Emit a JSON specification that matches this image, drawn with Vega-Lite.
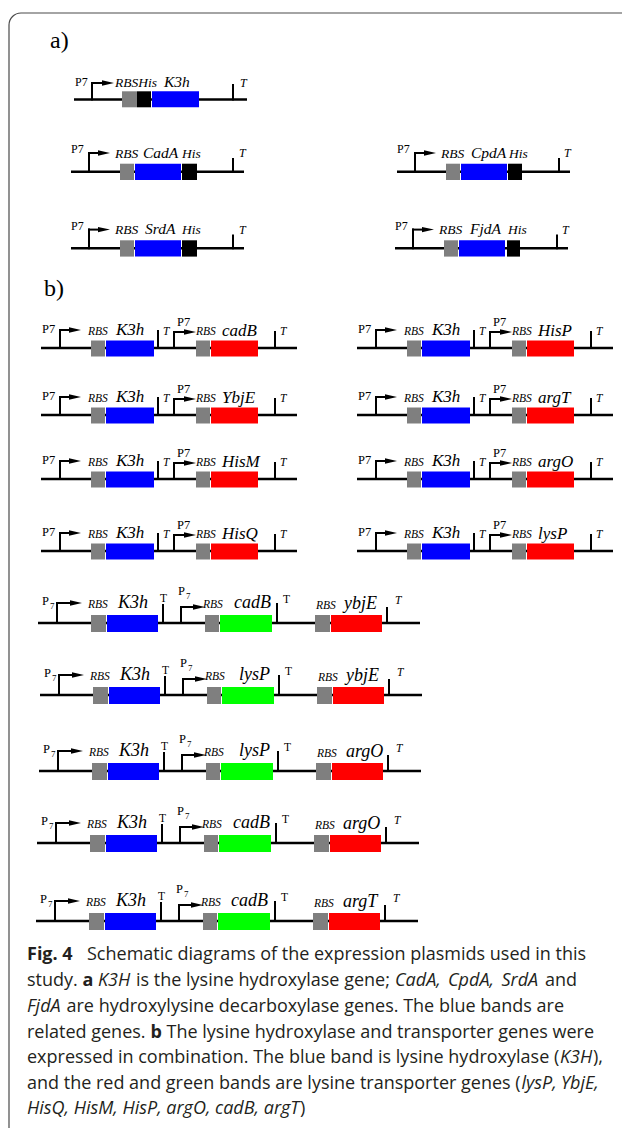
{
"$schema": "https://vega.github.io/schema/vega-lite/v6.json",
"width": 622, "height": 1128, "padding": 0, "autosize": {"type": "none"},
"background": "white",
"config": {"view": {"stroke": null}},
"datasets": {
"frame": [{"x": 9, "x2": 700, "y": 13, "y2": 1200}],
"bb": [
{"x":74,"x2":247,"y":99.5},
{"x":71,"x2":244,"y":171.7},{"x":397,"x2":570,"y":171.7},
{"x":71,"x2":244,"y":248.3},{"x":395,"x2":568,"y":248.3},
{"x":41,"x2":297,"y":348},{"x":357,"x2":613,"y":348},
{"x":41,"x2":297,"y":415},{"x":357,"x2":613,"y":415},
{"x":41,"x2":297,"y":479},{"x":357,"x2":613,"y":479},
{"x":41,"x2":297,"y":551},{"x":357,"x2":613,"y":551},
{"x":38,"x2":420,"y":623},{"x":40,"x2":422,"y":695},{"x":39,"x2":421,"y":771},{"x":37,"x2":419,"y":843},{"x":36,"x2":418,"y":921}
],
"vl": [
{"x":92,"y":83,"y2":99.5},{"x":233,"y":85,"y2":99.5},
{"x":89,"y":153,"y2":171.7},{"x":233,"y":159,"y2":171.7},
{"x":415,"y":153,"y2":171.7},{"x":559,"y":159,"y2":171.7},
{"x":89,"y":229.6,"y2":248.3},{"x":233,"y":235.6,"y2":248.3},
{"x":413,"y":229.6,"y2":248.3},{"x":557,"y":235.6,"y2":248.3},
{"x":60,"y":330,"y2":348},{"x":158,"y":331,"y2":348},{"x":174,"y":332,"y2":348},{"x":275,"y":332,"y2":348},
{"x":376,"y":330,"y2":348},{"x":474,"y":331,"y2":348},{"x":490,"y":332,"y2":348},{"x":591,"y":332,"y2":348},
{"x":60,"y":397,"y2":415},{"x":158,"y":398,"y2":415},{"x":174,"y":399,"y2":415},{"x":275,"y":399,"y2":415},
{"x":376,"y":397,"y2":415},{"x":474,"y":398,"y2":415},{"x":490,"y":399,"y2":415},{"x":591,"y":399,"y2":415},
{"x":60,"y":461,"y2":479},{"x":158,"y":462,"y2":479},{"x":174,"y":463,"y2":479},{"x":275,"y":463,"y2":479},
{"x":376,"y":461,"y2":479},{"x":474,"y":462,"y2":479},{"x":490,"y":463,"y2":479},{"x":591,"y":463,"y2":479},
{"x":60,"y":533,"y2":551},{"x":158,"y":534,"y2":551},{"x":174,"y":535,"y2":551},{"x":275,"y":535,"y2":551},
{"x":376,"y":533,"y2":551},{"x":474,"y":534,"y2":551},{"x":490,"y":535,"y2":551},{"x":591,"y":535,"y2":551},
{"x":57,"y":603,"y2":623},{"x":163,"y":605,"y2":623},{"x":181,"y":607,"y2":623},{"x":277,"y":604,"y2":623},{"x":387,"y":608,"y2":623},
{"x":59,"y":675,"y2":695},{"x":165,"y":677,"y2":695},{"x":183,"y":679,"y2":695},{"x":279,"y":676,"y2":695},{"x":389,"y":680,"y2":695},
{"x":58,"y":751,"y2":771},{"x":164,"y":753,"y2":771},{"x":182,"y":755,"y2":771},{"x":278,"y":752,"y2":771},{"x":388,"y":756,"y2":771},
{"x":56,"y":823,"y2":843},{"x":162,"y":825,"y2":843},{"x":180,"y":827,"y2":843},{"x":276,"y":824,"y2":843},{"x":386,"y":828,"y2":843},
{"x":55,"y":901,"y2":921},{"x":161,"y":903,"y2":921},{"x":179,"y":905,"y2":921},{"x":275,"y":902,"y2":921},{"x":385,"y":906,"y2":921}
],
"sh": [
{"x":92,"x2":104,"y":83},{"x":89,"x2":98,"y":153},{"x":415,"x2":424,"y":153},{"x":89,"x2":98,"y":229.6},{"x":413,"x2":422,"y":229.6},
{"x":60,"x2":69,"y":330},{"x":174,"x2":184,"y":332},{"x":376,"x2":385,"y":330},{"x":490,"x2":500,"y":332},
{"x":60,"x2":69,"y":397},{"x":174,"x2":184,"y":399},{"x":376,"x2":385,"y":397},{"x":490,"x2":500,"y":399},
{"x":60,"x2":69,"y":461},{"x":174,"x2":184,"y":463},{"x":376,"x2":385,"y":461},{"x":490,"x2":500,"y":463},
{"x":60,"x2":69,"y":533},{"x":174,"x2":184,"y":535},{"x":376,"x2":385,"y":533},{"x":490,"x2":500,"y":535},
{"x":57,"x2":70,"y":603},{"x":181,"x2":193,"y":607},
{"x":59,"x2":72,"y":675},{"x":183,"x2":195,"y":679},
{"x":58,"x2":71,"y":751},{"x":182,"x2":194,"y":755},
{"x":56,"x2":69,"y":823},{"x":180,"x2":192,"y":827},
{"x":55,"x2":68,"y":901},{"x":179,"x2":191,"y":905}
],
"tip": [
{"x":108,"y":83},{"x":104,"y":153},{"x":430,"y":153},{"x":104,"y":229.6},{"x":428,"y":229.6},
{"x":75,"y":330},{"x":190,"y":332},{"x":391,"y":330},{"x":506,"y":332},
{"x":75,"y":397},{"x":190,"y":399},{"x":391,"y":397},{"x":506,"y":399},
{"x":75,"y":461},{"x":190,"y":463},{"x":391,"y":461},{"x":506,"y":463},
{"x":75,"y":533},{"x":190,"y":535},{"x":391,"y":533},{"x":506,"y":535},
{"x":76,"y":603},{"x":199,"y":607},
{"x":78,"y":675},{"x":201,"y":679},
{"x":77,"y":751},{"x":200,"y":755},
{"x":75,"y":823},{"x":198,"y":827},
{"x":74,"y":901},{"x":197,"y":905}
],
"box": [
{"x":122,"x2":137,"y":91.3,"y2":107.3,"c":"g"},{"x":137,"x2":151,"y":91.3,"y2":107.3,"c":"k"},{"x":152,"x2":199,"y":91.3,"y2":107.3,"c":"b"},
{"x":120,"x2":134,"y":163.7,"y2":180,"c":"g"},{"x":135,"x2":181,"y":163.7,"y2":180,"c":"b"},{"x":182,"x2":197,"y":163.7,"y2":180,"c":"k"},
{"x":446,"x2":460,"y":163.7,"y2":180,"c":"g"},{"x":461,"x2":507,"y":163.7,"y2":180,"c":"b"},{"x":508,"x2":522,"y":163.7,"y2":180,"c":"k"},
{"x":120,"x2":134,"y":240.3,"y2":256.6,"c":"g"},{"x":135,"x2":181,"y":240.3,"y2":256.6,"c":"b"},{"x":182,"x2":197,"y":240.3,"y2":256.6,"c":"k"},
{"x":444,"x2":458,"y":240.3,"y2":256.6,"c":"g"},{"x":459,"x2":505,"y":240.3,"y2":256.6,"c":"b"},{"x":507,"x2":520,"y":240.3,"y2":256.6,"c":"k"},
{"x":91,"x2":105,"y":340.5,"y2":356.5,"c":"g"},{"x":106,"x2":154,"y":340.5,"y2":356.5,"c":"b"},{"x":196,"x2":210,"y":340.5,"y2":356.5,"c":"g"},{"x":211,"x2":258,"y":340.5,"y2":356.5,"c":"r"},
{"x":407,"x2":421,"y":340.5,"y2":356.5,"c":"g"},{"x":422,"x2":470,"y":340.5,"y2":356.5,"c":"b"},{"x":512,"x2":526,"y":340.5,"y2":356.5,"c":"g"},{"x":527,"x2":574,"y":340.5,"y2":356.5,"c":"r"},
{"x":91,"x2":105,"y":407.5,"y2":423.5,"c":"g"},{"x":106,"x2":154,"y":407.5,"y2":423.5,"c":"b"},{"x":196,"x2":210,"y":407.5,"y2":423.5,"c":"g"},{"x":211,"x2":258,"y":407.5,"y2":423.5,"c":"r"},
{"x":407,"x2":421,"y":407.5,"y2":423.5,"c":"g"},{"x":422,"x2":470,"y":407.5,"y2":423.5,"c":"b"},{"x":512,"x2":526,"y":407.5,"y2":423.5,"c":"g"},{"x":527,"x2":574,"y":407.5,"y2":423.5,"c":"r"},
{"x":91,"x2":105,"y":471.5,"y2":487.5,"c":"g"},{"x":106,"x2":154,"y":471.5,"y2":487.5,"c":"b"},{"x":196,"x2":210,"y":471.5,"y2":487.5,"c":"g"},{"x":211,"x2":258,"y":471.5,"y2":487.5,"c":"r"},
{"x":407,"x2":421,"y":471.5,"y2":487.5,"c":"g"},{"x":422,"x2":470,"y":471.5,"y2":487.5,"c":"b"},{"x":512,"x2":526,"y":471.5,"y2":487.5,"c":"g"},{"x":527,"x2":574,"y":471.5,"y2":487.5,"c":"r"},
{"x":91,"x2":105,"y":543.5,"y2":559.5,"c":"g"},{"x":106,"x2":154,"y":543.5,"y2":559.5,"c":"b"},{"x":196,"x2":210,"y":543.5,"y2":559.5,"c":"g"},{"x":211,"x2":258,"y":543.5,"y2":559.5,"c":"r"},
{"x":407,"x2":421,"y":543.5,"y2":559.5,"c":"g"},{"x":422,"x2":470,"y":543.5,"y2":559.5,"c":"b"},{"x":512,"x2":526,"y":543.5,"y2":559.5,"c":"g"},{"x":527,"x2":574,"y":543.5,"y2":559.5,"c":"r"},
{"x":91,"x2":106,"y":615,"y2":632,"c":"g"},{"x":107,"x2":158,"y":615,"y2":632,"c":"b"},{"x":205,"x2":219,"y":615,"y2":632,"c":"g"},{"x":220,"x2":272,"y":615,"y2":632,"c":"n"},{"x":315,"x2":330,"y":615,"y2":632,"c":"g"},{"x":331,"x2":382,"y":615,"y2":632,"c":"r"},
{"x":93,"x2":108,"y":687,"y2":704,"c":"g"},{"x":109,"x2":160,"y":687,"y2":704,"c":"b"},{"x":207,"x2":221,"y":687,"y2":704,"c":"g"},{"x":222,"x2":274,"y":687,"y2":704,"c":"n"},{"x":317,"x2":332,"y":687,"y2":704,"c":"g"},{"x":333,"x2":384,"y":687,"y2":704,"c":"r"},
{"x":92,"x2":107,"y":763,"y2":780,"c":"g"},{"x":108,"x2":159,"y":763,"y2":780,"c":"b"},{"x":206,"x2":220,"y":763,"y2":780,"c":"g"},{"x":221,"x2":273,"y":763,"y2":780,"c":"n"},{"x":316,"x2":331,"y":763,"y2":780,"c":"g"},{"x":332,"x2":383,"y":763,"y2":780,"c":"r"},
{"x":90,"x2":105,"y":835,"y2":852,"c":"g"},{"x":106,"x2":157,"y":835,"y2":852,"c":"b"},{"x":204,"x2":218,"y":835,"y2":852,"c":"g"},{"x":219,"x2":271,"y":835,"y2":852,"c":"n"},{"x":314,"x2":329,"y":835,"y2":852,"c":"g"},{"x":330,"x2":381,"y":835,"y2":852,"c":"r"},
{"x":89,"x2":104,"y":913,"y2":930,"c":"g"},{"x":105,"x2":156,"y":913,"y2":930,"c":"b"},{"x":203,"x2":217,"y":913,"y2":930,"c":"g"},{"x":218,"x2":270,"y":913,"y2":930,"c":"n"},{"x":313,"x2":328,"y":913,"y2":930,"c":"g"},{"x":329,"x2":380,"y":913,"y2":930,"c":"r"}
],
"txt": [
{"x":50,"y":48,"t":"a)","k":"lab"},{"x":44,"y":296,"t":"b)","k":"lab"},
{"x":75,"y":86,"t":"P7","k":"pa"},{"x":115,"y":87,"t":"RBSHis","k":"ia13"},{"x":164,"y":87,"t":"K3h","k":"ia15"},{"x":240,"y":87,"t":"T","k":"ia12"},
{"x":71,"y":153,"t":"P7","k":"pa"},{"x":115,"y":157.5,"t":"RBS","k":"ia13"},{"x":143,"y":157.5,"t":"CadA","k":"ia15"},{"x":182,"y":157.5,"t":"His","k":"ia13"},{"x":239,"y":157,"t":"T","k":"ia12"},
{"x":397,"y":153,"t":"P7","k":"pa"},{"x":441,"y":157.5,"t":"RBS","k":"ia13"},{"x":471,"y":157.5,"t":"CpdA","k":"ia15"},{"x":509,"y":157.5,"t":"His","k":"ia13"},{"x":564,"y":157,"t":"T","k":"ia12"},
{"x":71,"y":229.6,"t":"P7","k":"pa"},{"x":115,"y":234,"t":"RBS","k":"ia13"},{"x":145,"y":234,"t":"SrdA","k":"ia15"},{"x":182,"y":234,"t":"His","k":"ia13"},{"x":239,"y":233.6,"t":"T","k":"ia12"},
{"x":395,"y":229.6,"t":"P7","k":"pa"},{"x":439,"y":234,"t":"RBS","k":"ia13"},{"x":470,"y":234,"t":"FjdA","k":"ia15"},{"x":508,"y":234,"t":"His","k":"ia13"},{"x":562,"y":233.6,"t":"T","k":"ia12"},
{"x":42,"y":333,"t":"P7","k":"p"},{"x":88,"y":335,"t":"RBS","k":"rbs"},{"x":116,"y":335,"t":"K3h","k":"g17"},{"x":163,"y":335,"t":"T","k":"ti"},{"x":177,"y":326,"t":"P7","k":"p"},{"x":196,"y":335,"t":"RBS","k":"rbs"},{"x":222,"y":336,"t":"cadB","k":"g17"},{"x":280,"y":335,"t":"T","k":"ti"},
{"x":358,"y":333,"t":"P7","k":"p"},{"x":404,"y":335,"t":"RBS","k":"rbs"},{"x":432,"y":335,"t":"K3h","k":"g17"},{"x":479,"y":335,"t":"T","k":"ti"},{"x":493,"y":326,"t":"P7","k":"p"},{"x":512,"y":335,"t":"RBS","k":"rbs"},{"x":538,"y":336,"t":"HisP","k":"g17"},{"x":596,"y":335,"t":"T","k":"ti"},
{"x":42,"y":400,"t":"P7","k":"p"},{"x":88,"y":402,"t":"RBS","k":"rbs"},{"x":116,"y":402,"t":"K3h","k":"g17"},{"x":163,"y":402,"t":"T","k":"ti"},{"x":177,"y":393,"t":"P7","k":"p"},{"x":196,"y":402,"t":"RBS","k":"rbs"},{"x":222,"y":403,"t":"YbjE","k":"g17"},{"x":280,"y":402,"t":"T","k":"ti"},
{"x":358,"y":400,"t":"P7","k":"p"},{"x":404,"y":402,"t":"RBS","k":"rbs"},{"x":432,"y":402,"t":"K3h","k":"g17"},{"x":479,"y":402,"t":"T","k":"ti"},{"x":493,"y":393,"t":"P7","k":"p"},{"x":512,"y":402,"t":"RBS","k":"rbs"},{"x":538,"y":403,"t":"argT","k":"g17"},{"x":596,"y":402,"t":"T","k":"ti"},
{"x":42,"y":464,"t":"P7","k":"p"},{"x":88,"y":466,"t":"RBS","k":"rbs"},{"x":116,"y":466,"t":"K3h","k":"g17"},{"x":163,"y":466,"t":"T","k":"ti"},{"x":177,"y":457,"t":"P7","k":"p"},{"x":196,"y":466,"t":"RBS","k":"rbs"},{"x":222,"y":467,"t":"HisM","k":"g17"},{"x":280,"y":466,"t":"T","k":"ti"},
{"x":358,"y":464,"t":"P7","k":"p"},{"x":404,"y":466,"t":"RBS","k":"rbs"},{"x":432,"y":466,"t":"K3h","k":"g17"},{"x":479,"y":466,"t":"T","k":"ti"},{"x":493,"y":457,"t":"P7","k":"p"},{"x":512,"y":466,"t":"RBS","k":"rbs"},{"x":538,"y":467,"t":"argO","k":"g17"},{"x":596,"y":466,"t":"T","k":"ti"},
{"x":42,"y":536,"t":"P7","k":"p"},{"x":88,"y":538,"t":"RBS","k":"rbs"},{"x":116,"y":538,"t":"K3h","k":"g17"},{"x":163,"y":538,"t":"T","k":"ti"},{"x":177,"y":529,"t":"P7","k":"p"},{"x":196,"y":538,"t":"RBS","k":"rbs"},{"x":222,"y":539,"t":"HisQ","k":"g17"},{"x":280,"y":538,"t":"T","k":"ti"},
{"x":358,"y":536,"t":"P7","k":"p"},{"x":404,"y":538,"t":"RBS","k":"rbs"},{"x":432,"y":538,"t":"K3h","k":"g17"},{"x":479,"y":538,"t":"T","k":"ti"},{"x":493,"y":529,"t":"P7","k":"p"},{"x":512,"y":538,"t":"RBS","k":"rbs"},{"x":538,"y":539,"t":"lysP","k":"g17"},{"x":596,"y":538,"t":"T","k":"ti"},
{"x":42,"y":605,"t":"P","k":"p"},{"x":50,"y":608.5,"t":"7","k":"sub"},{"x":88,"y":608,"t":"RBS","k":"rbs"},{"x":118,"y":608,"t":"K3h","k":"g18"},{"x":160,"y":602,"t":"T","k":"tu"},{"x":178,"y":595,"t":"P","k":"p"},{"x":186,"y":598.5,"t":"7","k":"sub"},{"x":203,"y":608,"t":"RBS","k":"rbs"},{"x":234,"y":608,"t":"cadB","k":"g18"},{"x":283,"y":603,"t":"T","k":"tu"},{"x":316,"y":609,"t":"RBS","k":"rbs"},{"x":344,"y":609,"t":"ybjE","k":"g18"},{"x":395,"y":604,"t":"T","k":"ti"},
{"x":44,"y":677,"t":"P","k":"p"},{"x":52,"y":680.5,"t":"7","k":"sub"},{"x":90,"y":680,"t":"RBS","k":"rbs"},{"x":120,"y":680,"t":"K3h","k":"g18"},{"x":162,"y":674,"t":"T","k":"tu"},{"x":180,"y":667,"t":"P","k":"p"},{"x":188,"y":670.5,"t":"7","k":"sub"},{"x":205,"y":680,"t":"RBS","k":"rbs"},{"x":239,"y":680,"t":"lysP","k":"g18"},{"x":285,"y":675,"t":"T","k":"tu"},{"x":318,"y":681,"t":"RBS","k":"rbs"},{"x":346,"y":681,"t":"ybjE","k":"g18"},{"x":397,"y":676,"t":"T","k":"ti"},
{"x":43,"y":753,"t":"P","k":"p"},{"x":51,"y":756.5,"t":"7","k":"sub"},{"x":89,"y":756,"t":"RBS","k":"rbs"},{"x":119,"y":756,"t":"K3h","k":"g18"},{"x":161,"y":750,"t":"T","k":"tu"},{"x":179,"y":743,"t":"P","k":"p"},{"x":187,"y":746.5,"t":"7","k":"sub"},{"x":204,"y":756,"t":"RBS","k":"rbs"},{"x":239,"y":756,"t":"lysP","k":"g18"},{"x":284,"y":751,"t":"T","k":"tu"},{"x":317,"y":757,"t":"RBS","k":"rbs"},{"x":346,"y":757,"t":"argO","k":"g18"},{"x":396,"y":752,"t":"T","k":"ti"},
{"x":41,"y":825,"t":"P","k":"p"},{"x":49,"y":828.5,"t":"7","k":"sub"},{"x":87,"y":828,"t":"RBS","k":"rbs"},{"x":117,"y":828,"t":"K3h","k":"g18"},{"x":159,"y":822,"t":"T","k":"tu"},{"x":177,"y":815,"t":"P","k":"p"},{"x":185,"y":818.5,"t":"7","k":"sub"},{"x":202,"y":828,"t":"RBS","k":"rbs"},{"x":233,"y":828,"t":"cadB","k":"g18"},{"x":282,"y":823,"t":"T","k":"tu"},{"x":315,"y":829,"t":"RBS","k":"rbs"},{"x":343,"y":829,"t":"argO","k":"g18"},{"x":394,"y":824,"t":"T","k":"ti"},
{"x":40,"y":903,"t":"P","k":"p"},{"x":48,"y":906.5,"t":"7","k":"sub"},{"x":86,"y":906,"t":"RBS","k":"rbs"},{"x":116,"y":906,"t":"K3h","k":"g18"},{"x":158,"y":900,"t":"T","k":"tu"},{"x":176,"y":893,"t":"P","k":"p"},{"x":184,"y":896.5,"t":"7","k":"sub"},{"x":201,"y":906,"t":"RBS","k":"rbs"},{"x":231,"y":906,"t":"cadB","k":"g18"},{"x":281,"y":901,"t":"T","k":"tu"},{"x":314,"y":907,"t":"RBS","k":"rbs"},{"x":343,"y":907,"t":"argT","k":"g18"},{"x":393,"y":902,"t":"T","k":"ti"}
],
"cap": [
{"x":27,"y":960,"t":"Fig. 4","k":"cb"},
{"x":87,"y":960,"t":"Schematic diagrams of the expression plasmids used in this","k":"cr"},
{"x":27,"y":986,"t":"study.","k":"cr"},
{"x":82.5,"y":986,"t":"a","k":"cb"},
{"x":98,"y":986,"t":"K3H","k":"ci"},
{"x":136,"y":986,"t":"is the lysine hydroxylase gene;","k":"cr"},
{"x":395,"y":986,"t":"CadA,","k":"ci"},
{"x":448,"y":986,"t":"CpdA,","k":"ci"},
{"x":501.5,"y":986,"t":"SrdA","k":"ci"},
{"x":545,"y":986,"t":"and","k":"cr"},
{"x":27,"y":1012,"t":"FjdA","k":"ci"},
{"x":66.5,"y":1012,"t":"are hydroxylysine decarboxylase genes. The blue bands are","k":"cr"},
{"x":27,"y":1037.5,"t":"related genes.","k":"cr"},
{"x":150.5,"y":1037.5,"t":"b","k":"cb"},
{"x":166.5,"y":1037.5,"t":"The lysine hydroxylase and transporter genes were","k":"cr"},
{"x":27,"y":1063,"t":"expressed in combination. The blue band is lysine hydroxylase (","k":"cr"},
{"x":560,"y":1063,"t":"K3H","k":"ci"},
{"x":593,"y":1063,"t":"),","k":"cr"},
{"x":27,"y":1088.5,"t":"and the red and green bands are lysine transporter genes (","k":"cr"},
{"x":521.5,"y":1088.5,"t":"lysP,","k":"ci"},
{"x":561,"y":1088.5,"t":"YbjE,","k":"ci"},
{"x":27,"y":1114,"t":"HisQ, HisM, HisP, argO, cadB, argT","k":"ci"},
{"x":300,"y":1114,"t":")","k":"cr"}
]
},
"encoding": {
"x": {"field": "x", "type": "quantitative", "scale": {"domain": [0, 622], "nice": false, "zero": false}, "axis": null},
"y": {"field": "y", "type": "quantitative", "scale": {"domain": [0, 1128], "nice": false, "zero": false, "reverse": true}, "axis": null}
},
"layer": [
{"data": {"name": "frame"}, "mark": {"type": "rect", "filled": false, "stroke": "#4a4a4a", "strokeWidth": 1.2, "cornerRadius": 12}, "encoding": {"x2": {"field": "x2"}, "y2": {"field": "y2"}}},
{"data": {"name": "bb"}, "mark": {"type": "rule", "strokeWidth": 2.5, "color": "black"}, "encoding": {"x2": {"field": "x2"}}},
{"data": {"name": "vl"}, "mark": {"type": "rule", "strokeWidth": 2, "color": "black", "strokeCap": "square"}, "encoding": {"y2": {"field": "y2"}}},
{"data": {"name": "sh"}, "mark": {"type": "rule", "strokeWidth": 2, "color": "black", "strokeCap": "square"}, "encoding": {"x2": {"field": "x2"}}},
{"data": {"name": "tip"}, "mark": {"type": "point", "shape": "M-1,-0.45L1,0L-1,0.45Z", "size": 144, "filled": true, "color": "black", "opacity": 1, "strokeWidth": 0}},
{"data": {"name": "box"}, "mark": {"type": "rect"}, "encoding": {"x2": {"field": "x2"}, "y2": {"field": "y2"}, "color": {"field": "c", "type": "nominal", "scale": {"domain": ["g", "k", "b", "r", "n"], "range": ["#7f7f7f", "#000000", "#0000ff", "#ff0000", "#00ff00"]}, "legend": null}}},
{"data": {"name": "txt"}, "transform": [{"filter": "datum.k==='lab'"}], "mark": {"type": "text", "align": "left", "baseline": "alphabetic", "font": "Liberation Serif", "fontSize": 24, "color": "black"}, "encoding": {"text": {"field": "t"}}},
{"data": {"name": "txt"}, "transform": [{"filter": "datum.k==='pa'"}], "mark": {"type": "text", "align": "left", "baseline": "alphabetic", "font": "Liberation Serif", "fontSize": 12, "color": "black"}, "encoding": {"text": {"field": "t"}}},
{"data": {"name": "txt"}, "transform": [{"filter": "datum.k==='ia13'"}], "mark": {"type": "text", "align": "left", "baseline": "alphabetic", "font": "Liberation Serif", "fontSize": 13.5, "fontStyle": "italic", "color": "black"}, "encoding": {"text": {"field": "t"}}},
{"data": {"name": "txt"}, "transform": [{"filter": "datum.k==='ia15'"}], "mark": {"type": "text", "align": "left", "baseline": "alphabetic", "font": "Liberation Serif", "fontSize": 15.5, "fontStyle": "italic", "color": "black"}, "encoding": {"text": {"field": "t"}}},
{"data": {"name": "txt"}, "transform": [{"filter": "datum.k==='ia12'"}], "mark": {"type": "text", "align": "left", "baseline": "alphabetic", "font": "Liberation Serif", "fontSize": 12, "fontStyle": "italic", "color": "black"}, "encoding": {"text": {"field": "t"}}},
{"data": {"name": "txt"}, "transform": [{"filter": "datum.k==='p'"}], "mark": {"type": "text", "align": "left", "baseline": "alphabetic", "font": "Liberation Serif", "fontSize": 12.5, "color": "black"}, "encoding": {"text": {"field": "t"}}},
{"data": {"name": "txt"}, "transform": [{"filter": "datum.k==='sub'"}], "mark": {"type": "text", "align": "left", "baseline": "alphabetic", "font": "Liberation Serif", "fontSize": 9, "color": "black"}, "encoding": {"text": {"field": "t"}}},
{"data": {"name": "txt"}, "transform": [{"filter": "datum.k==='rbs'"}], "mark": {"type": "text", "align": "left", "baseline": "alphabetic", "font": "Liberation Serif", "fontSize": 11.5, "fontStyle": "italic", "color": "black"}, "encoding": {"text": {"field": "t"}}},
{"data": {"name": "txt"}, "transform": [{"filter": "datum.k==='g17'"}], "mark": {"type": "text", "align": "left", "baseline": "alphabetic", "font": "Liberation Serif", "fontSize": 17, "fontStyle": "italic", "color": "black"}, "encoding": {"text": {"field": "t"}}},
{"data": {"name": "txt"}, "transform": [{"filter": "datum.k==='g18'"}], "mark": {"type": "text", "align": "left", "baseline": "alphabetic", "font": "Liberation Serif", "fontSize": 18, "fontStyle": "italic", "color": "black"}, "encoding": {"text": {"field": "t"}}},
{"data": {"name": "txt"}, "transform": [{"filter": "datum.k==='ti'"}], "mark": {"type": "text", "align": "left", "baseline": "alphabetic", "font": "Liberation Serif", "fontSize": 11.5, "fontStyle": "italic", "color": "black"}, "encoding": {"text": {"field": "t"}}},
{"data": {"name": "txt"}, "transform": [{"filter": "datum.k==='tu'"}], "mark": {"type": "text", "align": "left", "baseline": "alphabetic", "font": "Liberation Serif", "fontSize": 11.5, "color": "black"}, "encoding": {"text": {"field": "t"}}},
{"data": {"name": "cap"}, "transform": [{"filter": "datum.k==='cr'"}], "mark": {"type": "text", "align": "left", "baseline": "alphabetic", "font": "Open Sans", "fontSize": 18, "color": "#231f20"}, "encoding": {"text": {"field": "t"}}},
{"data": {"name": "cap"}, "transform": [{"filter": "datum.k==='cb'"}], "mark": {"type": "text", "align": "left", "baseline": "alphabetic", "font": "Open Sans", "fontSize": 18, "fontWeight": "bold", "color": "#231f20"}, "encoding": {"text": {"field": "t"}}},
{"data": {"name": "cap"}, "transform": [{"filter": "datum.k==='ci'"}], "mark": {"type": "text", "align": "left", "baseline": "alphabetic", "font": "Open Sans", "fontSize": 18, "fontStyle": "italic", "color": "#231f20"}, "encoding": {"text": {"field": "t"}}}
]
}
